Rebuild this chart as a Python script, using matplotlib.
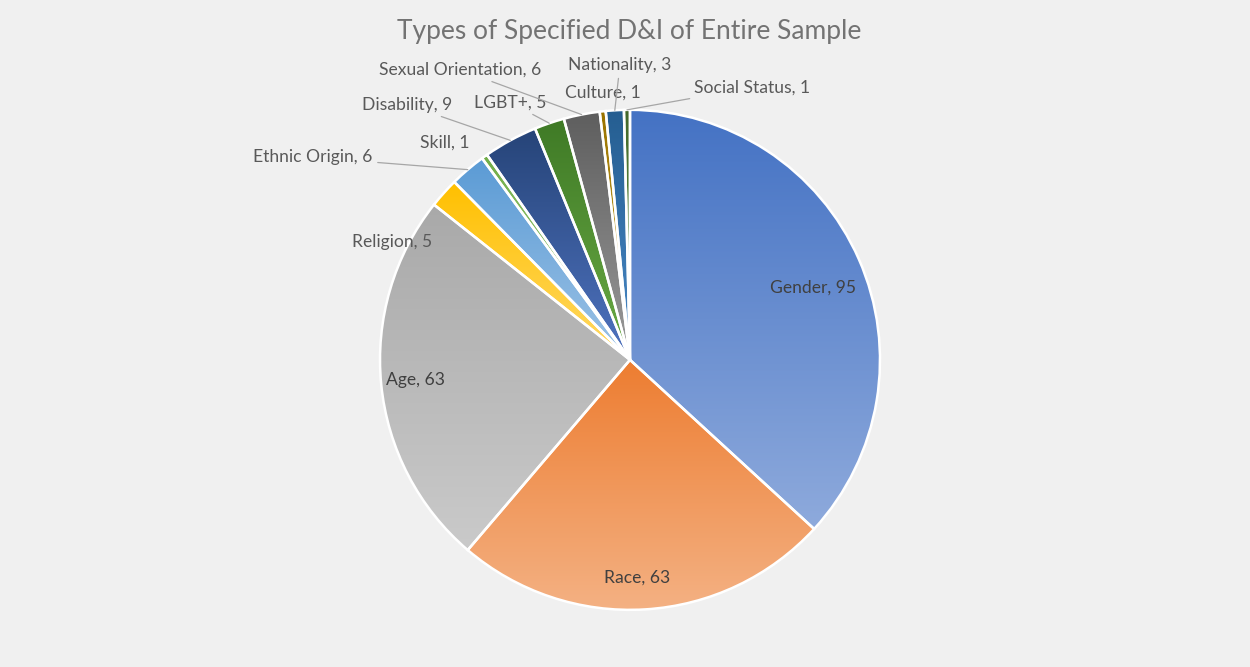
import numpy as np
import matplotlib
matplotlib.use("Agg")
import matplotlib.pyplot as plt
from matplotlib.colors import to_rgb

# data, clockwise from 12 o'clock
categories = ["Gender", "Race", "Age", "Religion", "Ethnic Origin", "Skill",
              "Disability", "LGBT+", "Sexual Orientation", "Culture",
              "Nationality", "Social Status"]
counts = [95, 63, 63, 5, 6, 1, 9, 5, 6, 1, 3, 1]

# gradient colours per slice (top -> bottom)
top_colors = ["#4472C4", "#ED7D31", "#A9A9A9", "#FFC000", "#5B9BD5", "#70AD47",
              "#264478", "#3F7A26", "#5E5E5E", "#997300", "#255E91", "#43682B"]
bottom_colors = ["#8EAADC", "#F4B183", "#CACACA", "#FFD966", "#9DC3E6", "#A9D18E",
                 "#4F73C0", "#6AAB45", "#9A9A9A", "#D4AF37", "#4A8AC8", "#6AA84F"]

# label placement (data units, pie radius = 1) and whether a leader line is drawn
label_pos = [(0.73, 0.29), (0.03, -0.87), (-0.86, -0.08), (-0.95, 0.47),
             (-1.27, 0.81), (-0.74, 0.87), (-0.89, 1.02), (-0.48, 1.03),
             (-0.68, 1.16), (-0.11, 1.07), (-0.04, 1.18), (0.49, 1.09)]
leader = [False, False, False, False, True, False, True, True, True, False, True, True]

BG = "#F0F0F0"
TXT = "#595959"
FS = 12.6

fig = plt.figure(figsize=(12.5, 6.67), dpi=100, facecolor=BG)
ax = fig.add_axes([0.304, 0.0855, 0.4, 0.75])
ax.set_facecolor(BG)

wedges, _ = ax.pie(counts, startangle=90, counterclock=False, radius=1,
                   wedgeprops=dict(edgecolor="white", linewidth=1.8))

for w, c1, c2 in zip(wedges, top_colors, bottom_colors):
    bb = w.get_path().get_extents()
    a, b = np.array(to_rgb(c1)), np.array(to_rgb(c2))
    t = np.linspace(0, 1, 200)[:, None]
    grad = (a * (1 - t) + b * t)[:, None, :]
    im = ax.imshow(grad, extent=[bb.x0, bb.x1, bb.y0, bb.y1], origin="upper",
                   aspect="auto", zorder=1, interpolation="bilinear")
    im.set_clip_path(w)
    w.set_facecolor("none")
    w.set_zorder(2)

ax.set_xlim(-1, 1)
ax.set_ylim(-1, 1)
ax.set_aspect("equal")
ax.axis("off")

for w, name, n, pos, ld in zip(wedges, categories, counts, label_pos, leader):
    txt = f"{name}, {n}"
    color = "#404040" if name in ("Gender", "Race", "Age") else TXT
    if ld:
        mid = np.deg2rad((w.theta1 + w.theta2) / 2)
        ax.annotate(txt, xy=(np.cos(mid), np.sin(mid)), xytext=pos,
                    ha="center", va="center", fontsize=FS, color=color,
                    family="Lato", annotation_clip=False, zorder=5,
                    arrowprops=dict(arrowstyle="-", color="#A6A6A6", lw=0.9,
                                    shrinkA=2, shrinkB=0))
    else:
        ax.text(pos[0], pos[1], txt, ha="center", va="center", fontsize=FS,
                color=color, family="Lato", zorder=5, clip_on=False)

fig.text(0.503, 0.953, "Types of Specified D&I of Entire Sample", ha="center",
         va="center", fontsize=19, color="#737373", family="Lato")

fig.savefig("out.png", dpi=100, facecolor=BG)
